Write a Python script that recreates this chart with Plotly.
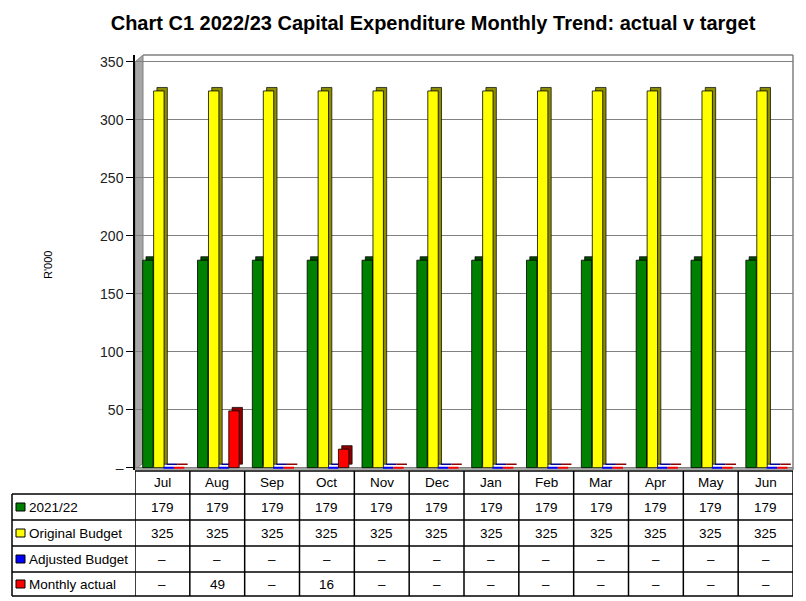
import plotly.graph_objects as go

months = ["Jul", "Aug", "Sep", "Oct", "Nov", "Dec", "Jan", "Feb", "Mar", "Apr", "May", "Jun"]
prior_year = [179, 179, 179, 179, 179, 179, 179, 179, 179, 179, 179, 179]
original_budget = [325, 325, 325, 325, 325, 325, 325, 325, 325, 325, 325, 325]
adjusted_budget = [0, 0, 0, 0, 0, 0, 0, 0, 0, 0, 0, 0]
monthly_actual = [0, 49, 0, 16, 0, 0, 0, 0, 0, 0, 0, 0]
series_names = ["2021/22", "Original Budget", "Adjusted Budget", "Monthly actual"]
y_ticks = [0, 50, 100, 150, 200, 250, 300, 350]

series = [prior_year, original_budget, adjusted_budget, monthly_actual]
fronts = ["#008000", "#FFFF00", "#0000FF", "#FF0000"]
sides = ["#004a00", "#8c8c00", "#00008c", "#8c0000"]
offsets = [-0.36, -0.16, 0.02, 0.21]
BW = 0.19
DEPTH = 3  # fake 3d depth, in y units

# plot area in pixels, used to place the data table under the chart
L, R, T, B = 135, 793, 55, 470
def px(x): return (x - L) / (R - L)
def py(y): return (B - y) / (B - T)

FONT = "Arial, Liberation Sans, sans-serif"

fig = go.Figure()

# depth copies first (dark side/top), then the front faces
for vals, s, off in zip(series, sides, offsets):
    fig.add_trace(go.Bar(x=months, y=vals, base=DEPTH, offset=off + 0.06, width=BW,
                         marker=dict(color=s, line=dict(color=["black" if v else s for v in vals],
                                                        width=[0.7 if v else 1.5 for v in vals])),
                         showlegend=False, hoverinfo="skip"))
for vals, c, off, name in zip(series, fronts, offsets, series_names):
    fig.add_trace(go.Bar(x=months, y=vals, name=name, offset=off, width=BW,
                         marker=dict(color=c, line=dict(color=["black" if v else c for v in vals],
                                                        width=[0.8 if v else 2 for v in vals])),
                         showlegend=False))

shapes = []
# left wall and floor
shapes.append(dict(type="path", xref="paper", yref="paper", layer="below",
                   path=f"M 0 {py(62)} L {px(143)} 1 L {px(143)} {py(463)} L 0 0 Z",
                   fillcolor="#a6a6a6", line=dict(color="#808080", width=1)))
shapes.append(dict(type="rect", xref="paper", yref="y", x0=0, x1=1, y0=-2, y1=0,
                   fillcolor="#a6a6a6", line=dict(width=0), layer="below"))
# frame on top and right
shapes.append(dict(type="line", xref="paper", yref="paper", x0=px(143), x1=1, y0=1, y1=1,
                   line=dict(color="#808080", width=1.5)))
shapes.append(dict(type="line", xref="paper", yref="paper", x0=1, x1=1, y0=0, y1=1,
                   line=dict(color="#808080", width=1.5)))

# data table grid
rows = [471, 494, 520, 546, 572, 596]
shapes.append(dict(type="line", xref="paper", yref="paper", x0=0, x1=1, y0=py(rows[0]), y1=py(rows[0]),
                   line=dict(color="black", width=1.5)))
for r in rows[1:]:
    shapes.append(dict(type="line", xref="paper", yref="paper", x0=px(12), x1=1, y0=py(r), y1=py(r),
                       line=dict(color="black", width=1.5)))
shapes.append(dict(type="line", xref="paper", yref="paper", x0=px(12), x1=px(12),
                   y0=py(rows[1]), y1=py(rows[-1]), line=dict(color="black", width=1.5)))
for i in range(len(months) + 1):
    shapes.append(dict(type="line", xref="x", yref="paper", x0=i - 0.5, x1=i - 0.5,
                       y0=py(rows[0]), y1=py(rows[-1]), line=dict(color="black", width=1.5)))

cell_font = dict(size=13.5, color="black", family=FONT)
annotations = []
for m in months:
    annotations.append(dict(x=m, y=py((rows[0] + rows[1]) / 2), xref="x", yref="paper", text=m,
                            xanchor="center", yanchor="middle", showarrow=False, font=cell_font))
for k, (vals, c, name) in enumerate(zip(series, fronts, series_names)):
    ymid = (rows[k + 1] + rows[k + 2]) / 2
    shapes.append(dict(type="rect", xref="paper", yref="paper", x0=px(16), x1=px(25),
                       y0=py(ymid + 4), y1=py(ymid - 4), fillcolor=c, line=dict(color="black", width=1)))
    annotations.append(dict(x=px(27), y=py(ymid), xref="paper", yref="paper", text=name,
                            xanchor="left", yanchor="middle", showarrow=False, font=cell_font))
    for m, v in zip(months, vals):
        annotations.append(dict(x=m, y=py(ymid), xref="x", yref="paper", text=str(v) if v else "–",
                                xanchor="center", yanchor="middle", showarrow=False, font=cell_font))

annotations.append(dict(x=px(48), y=py(265), xref="paper", yref="paper", text="R'000", textangle=-90,
                        xanchor="center", yanchor="middle", showarrow=False,
                        font=dict(size=11, color="black", family=FONT)))

fig.update_layout(
    width=806, height=601,
    margin=dict(l=L, r=806 - R, t=T, b=601 - B, pad=0),
    paper_bgcolor="white", plot_bgcolor="white",
    barmode="overlay",
    title=dict(text="<b>Chart C1 2022/23 Capital Expenditure Monthly Trend: actual v target</b>",
               x=433 / 806, xanchor="center", y=1 - 23 / 601, yanchor="middle",
               font=dict(size=20, color="black", family=FONT)),
    xaxis=dict(type="category", range=[-0.5, len(months) - 0.5], showticklabels=False,
               showgrid=False, zeroline=False, showline=False),
    yaxis=dict(range=[-2, 356], tickvals=y_ticks,
               ticktext=["–" if v == 0 else str(v) for v in y_ticks],
               ticks="outside", ticklen=7, tickcolor="black", showline=True, linecolor="black",
               linewidth=1.5, gridcolor="#808080", gridwidth=1, zeroline=False,
               tickfont=dict(size=14, color="#222", family=FONT)),
    shapes=shapes, annotations=annotations,
)

# drop the default page margin so the figure sits at the window's top-left corner
fig.write_html("out.html", config={"displayModeBar": False},
               post_script="document.body.style.margin='0';")
